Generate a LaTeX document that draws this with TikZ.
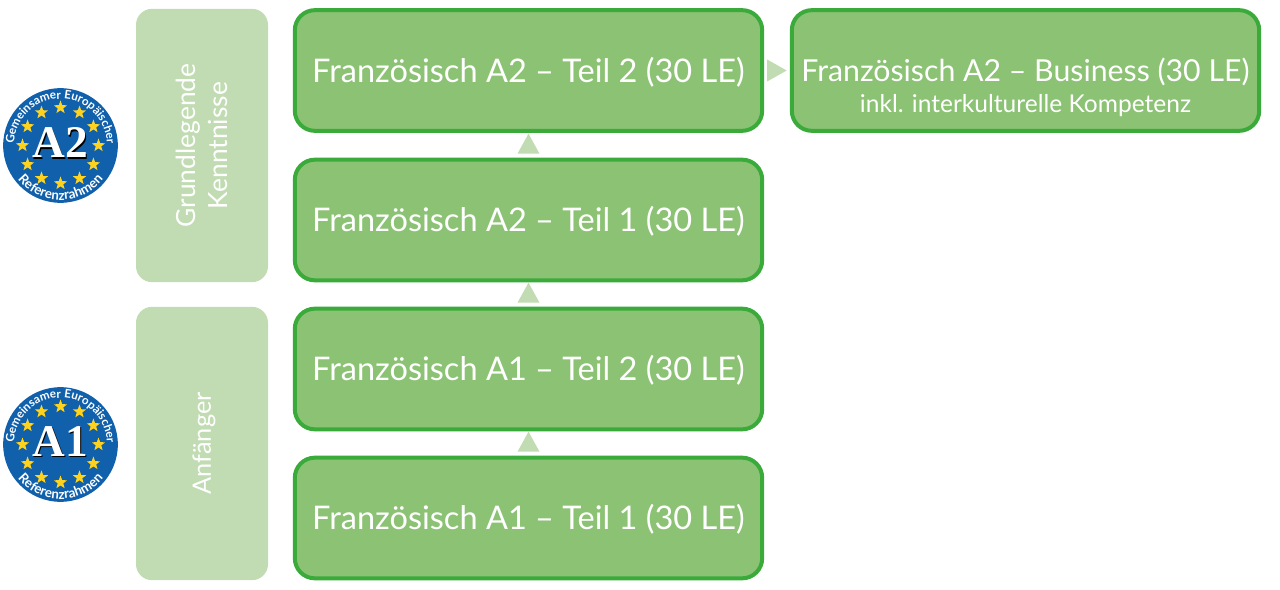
\documentclass[tikz,border=0pt]{standalone}
\usepackage{fontspec}
\setmainfont{Lato}
\newfontfamily\badgefont{Lato}
\newfontfamily\lettersfont{Liberation Serif}
\usetikzlibrary{shapes.geometric,decorations.text,calc}
\definecolor{boxfill}{HTML}{8CC274}
\definecolor{boxline}{HTML}{3AAB3A}
\definecolor{pale}{HTML}{C1DCB2}
\definecolor{euroblue}{HTML}{1060AC}
\definecolor{euroyellow}{HTML}{FFD21E}
\tikzset{
  boxonly/.style={draw=boxline,line width=3pt,fill=boxfill,rounded corners=15pt,minimum width=350.5pt,minimum height=90.5pt,inner sep=0pt},
  coursetext/.style={text=white,font=\fontsize{24.4}{27}\selectfont},
  level/.style={fill=pale,rounded corners=12pt,minimum width=99pt,minimum height=205pt,inner sep=0pt},
  leveltext/.style={text=white,rotate=90,font=\fontsize{19.8}{23.5}\selectfont,align=center},
  flow/.style={fill=pale,draw=none},
  euro/.style={star,star points=5,star point ratio=2.4,fill=euroyellow,inner sep=0pt,minimum size=10.5pt},
  disc/.style={circle,fill=euroblue,minimum size=86pt,inner sep=0pt},
}
\newcommand{\badge}[3]{%
  \node[disc] (#1) at (#2) {};
  \foreach \a in {0,30,...,330}
    \node[euro] at ($(#1)+(\a:38)$) {};
  \path[decorate,decoration={text along path,text align=center,text={|\badgefont\bfseries\fontsize{8.8}{11}\selectfont\color{white}|Gemeinsamer Europäischer}}]
    ($(#1)+(200:46.5)$) arc[start angle=200,end angle=-20,radius=46.5];
  \path[decorate,decoration={text along path,text align=center,text={|\badgefont\bfseries\fontsize{10}{12}\selectfont\color{white}|Referenzrahmen}}]
    ($(#1)+(218:54.5)$) arc[start angle=218,end angle=322,radius=54.5];
  \node[text=black,font=\lettersfont\bfseries\fontsize{34}{34}\selectfont] (#1s) at ($(#1)+(1,1.5)$) {#3};
  \node[text=white,font=\lettersfont\bfseries\fontsize{34}{34}\selectfont] (#1t) at ($(#1)+(0,3)$) {#3};
}
\begin{document}
\begin{tikzpicture}[x=0.75pt,y=0.75pt]
\useasboundingbox (0,0) rectangle (1280,589);
\node[level] (l2) at (202,443.5) {};
\node[leveltext] (l2t) at (l2) {Grundlegende\\Kenntnisse};
\node[level] (l1) at (202,145.5) {};
\node[leveltext,font=\fontsize{19}{23}\selectfont] (l1t) at ($(l1)+(2,0)$) {Anfänger};
\node[boxonly] (c4) at (528.5,518.5) {};
\node[boxonly] (c3) at (528.5,369) {};
\node[boxonly] (c2) at (528.5,220) {};
\node[boxonly] (c1) at (528.5,71) {};
\node[boxonly] (c5) at (1025.5,518.5) {};
\node[coursetext] (c4t) at ($(c4)+(0,-1.5)$) {Französisch A2 – Teil 2 (30 LE)};
\node[coursetext] (c3t) at ($(c3)+(0,-1.5)$) {Französisch A2 – Teil 1 (30 LE)};
\node[coursetext] (c2t) at ($(c2)+(0,-1.5)$) {Französisch A1 – Teil 2 (30 LE)};
\node[coursetext] (c1t) at ($(c1)+(0,-1.5)$) {Französisch A1 – Teil 1 (30 LE)};
\node[text=white,font=\fontsize{22.7}{27}\selectfont] (c5a) at (1025.5,517) {Französisch A2 – Business (30 LE)};
\node[text=white,font=\fontsize{18.4}{21}\selectfont] (c5b) at (1025.5,483) {inkl. interkulturelle Kompetenz};
\path (c1.north) ++(0,4) coordinate (u1) (c2.north) ++(0,4) coordinate (u2) (c3.north) ++(0,4) coordinate (u3);
\foreach \u in {u1,u2,u3}
  \fill[flow] ($(\u)+(-11,0)$) -- ($(\u)+(11,0)$) -- ($(\u)+(0,20)$) -- cycle;
\coordinate (r1) at ($(c4.east)+(3,0)$);
\fill[flow] ($(r1)+(0,11)$) -- ($(r1)+(0,-11)$) -- ($(r1)+(19.5,0)$) -- cycle;
\badge{b2}{60.5,443.5}{A2}
\badge{b1}{60.5,144.5}{A1}
\end{tikzpicture}
\end{document}
